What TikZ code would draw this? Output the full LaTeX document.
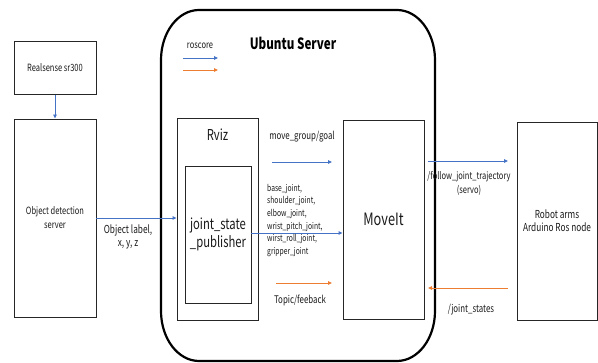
\documentclass[tikz,border=0pt]{standalone}
\usepackage{fontspec}
\setmainfont{Noto Sans CJK KR}[FakeStretch=0.75]
\usetikzlibrary{arrows.meta}
\definecolor{ablue}{HTML}{4472C4}
\definecolor{aorange}{HTML}{ED7D31}
\tikzset{
  box/.style={draw=black!85, line width=0.9pt, inner sep=0pt, align=center, text=black!90},
  lbl/.style={inner sep=0pt, align=center, text=black!90, font=\fontsize{10.5}{12.5}\selectfont},
  barrow/.style={draw=ablue, line width=0.9pt, -{Triangle[length=4pt,width=3.5pt]}},
  oarrow/.style={draw=aorange, line width=0.9pt, -{Triangle[length=4pt,width=3.5pt]}},
}
\begin{document}
\begin{tikzpicture}[x=1pt,y=-1pt]
\useasboundingbox (0,0) rectangle (598,363);
% Ubuntu server (elliptical corners)
\draw[line width=2.2pt] (199,10) -- (397,10)
  arc[start angle=90, end angle=0, x radius=38pt, y radius=50pt] -- (435,311)
  arc[start angle=0, end angle=-90, x radius=38pt, y radius=50pt] -- (199,361)
  arc[start angle=270, end angle=180, x radius=38pt, y radius=50pt] -- (161,60)
  arc[start angle=180, end angle=90, x radius=38pt, y radius=50pt] -- cycle;
\node[inner sep=0pt, font=\fontsize{15.5}{18}\selectfont\bfseries] (ubuntu) at (293,43) {Ubuntu Server};
% boxes
\node[box, minimum width=82pt, minimum height=53pt, font=\fontsize{10}{12}\selectfont] (rs) at (55,68) {Realsense sr300};
\node[box, minimum width=82pt, minimum height=198pt, font=\fontsize{10}{14}\selectfont] (od) at (55,218) {Object detection\\server};
\node[box, minimum width=81pt, minimum height=202pt] (rviz) at (217.5,219) {};
\node[inner sep=0pt, font=\fontsize{15}{18}\selectfont, text=black!90] (rvizl) at (217.5,135) {Rviz};
\node[box, minimum width=66pt, minimum height=137pt, font=\fontsize{15}{18}\selectfont] (jsp) at (218,234.5) {joint\_state\\\_publisher};
\node[box, minimum width=81pt, minimum height=199pt, font=\fontsize{17}{18}\selectfont] (moveit) at (383.5,219.5) {MoveIt};
\node[box, minimum width=80pt, minimum height=198pt, font=\fontsize{11}{13}\selectfont] (robot) at (557,221) {Robot arms\\Arduino Ros node};
% legend
\node[lbl, font=\fontsize{10}{12}\selectfont] (roscore) at (200,46) {roscore};
\coordinate (lb1) at (183,58); \coordinate (lb2) at (218,58);
\coordinate (lo1) at (183,70); \coordinate (lo2) at (218,70);
\draw[barrow] (lb1) -- (lb2);
\draw[oarrow] (lo1) -- (lo2);
% connectors
\draw[barrow] (rs.south) -- (od.north);
\draw[barrow] (od.east |- 0,218) -- (rviz.west |- 0,218);
\node[lbl, font=\fontsize{11}{12.5}\selectfont] (objl) at (128,237) {Object label,\\x, y, z};
% move_group/goal
\node[lbl] (mgl) at (302,137) {move\_group/goal};
\coordinate (mg1) at (272,162); \coordinate (mg2) at (332,162);
\draw[barrow] (mg1) -- (mg2);
% joints
\draw[barrow] (jsp.east |- 0,233) -- (moveit.west |- 0,233);
\node[lbl, align=left, anchor=north west, font=\fontsize{9}{12.6}\selectfont] (joints) at (267,184) {base\_joint,\\shoulder\_joint,\\elbow\_joint,\\wrist\_pitch\_joint,\\wirst\_roll\_joint,\\gripper\_joint};
% feedback
\coordinate (fb1) at (276,283); \coordinate (fb2) at (332,283);
\draw[oarrow] (fb1) -- (fb2);
\node[lbl] (fbl) at (300,300) {Topic/feeback};
% follow joint trajectory
\coordinate (fj1) at (428,161); \coordinate (fj2) at (508,161);
\draw[barrow] (fj1) -- (fj2);
\node[lbl, font=\fontsize{10}{14}\selectfont] (fjl) at (469,183) {/follow\_joint\_trajectory\\(servo)};
% joint states
\coordinate (js1) at (508,288); \coordinate (js2) at (428,288);
\draw[oarrow] (js1) -- (js2);
\node[lbl] (jsl) at (471,310) {/joint\_states};
\end{tikzpicture}
\end{document}
